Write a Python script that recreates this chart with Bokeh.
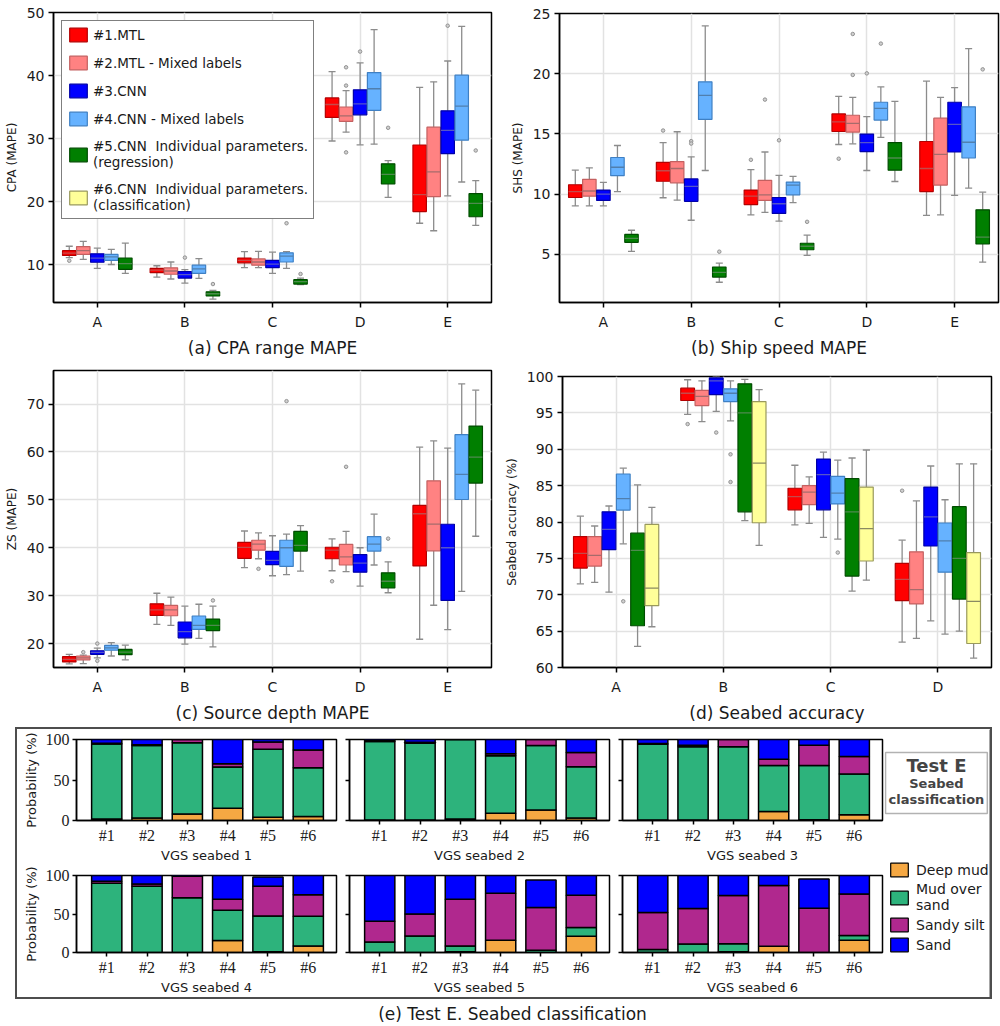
from bokeh.plotting import figure
from bokeh.models import (ColumnDataSource, Range1d, FixedTicker, Legend, LegendItem,
                          Label, BoxAnnotation, CustomLabelingPolicy)
from bokeh.layouts import row, column
from bokeh.embed import file_html
from bokeh.resources import INLINE

FONT = "DejaVu Sans"
SERIF = "Liberation Serif"

SERIES = ["#1.MTL", "#2.MTL - Mixed labels", "#3.CNN", "#4.CNN - Mixed labels",
          "#5.CNN  Individual parameters.\n(regression)",
          "#6.CNN  Individual parameters.\n(classification)"]
BOX_FILL = ["#ff0000", "#ff8282", "#0000ff", "#66b2ff", "#007f00", "#ffff99"]
BOX_EDGE = ["#b30000", "#c46060", "#0000a8", "#3f80c4", "#004c00", "#99995c"]
BOX_MED = ["#c44a4a", "#a66b6b", "#5555c8", "#507fae", "#4e8a4e", "#8a8a62"]
WHISKER = "#8c8c8c"

GROUPS5 = ["A", "B", "C", "D", "E"]
GROUPS4 = ["A", "B", "C", "D"]

# ---------------- (a) CPA range MAPE : [group][series]
CPA_LO = [[11.1, 10.8, 9.4, 10.0, 8.6], [8.0, 7.7, 7.06, 7.8, 4.5], [9.5, 9.5, 8.6, 9.38, 6.8],
          [29.6, 31.0, 29.0, 29.1, 20.67], [16.55, 15.36, 20.9, 23.1, 16.2]]
CPA_Q1 = [[11.44, 11.6, 10.36, 10.67, 9.23], [8.71, 8.45, 7.84, 8.6, 5.0], [10.26, 9.9, 9.5, 10.4, 6.9],
          [33.35, 32.73, 33.76, 34.48, 22.78], [18.4, 20.77, 27.6, 29.74, 17.58]]
CPA_MED = [[11.8, 12.2, 11.0, 11.2, 10.15], [9.1, 8.97, 8.4, 9.3, 5.36], [10.67, 10.4, 10.05, 11.34, 7.27],
           [35.4, 33.6, 35.5, 37.9, 24.3], [21.1, 24.7, 31.3, 35.15, 19.7]]
CPA_Q3 = [[12.2, 12.84, 11.7, 11.6, 11.03], [9.38, 9.48, 8.87, 9.9, 5.67], [11.03, 10.88, 10.67, 11.86, 7.6],
          [36.44, 35.0, 37.73, 40.46, 25.98], [28.97, 31.8, 34.4, 40.05, 21.24]]
CPA_HI = [[12.9, 13.66, 12.6, 12.4, 13.4], [9.8, 10.4, 9.2, 10.93, 5.9], [12.06, 12.1, 11.96, 12.06, 7.84],
          [40.6, 37.6, 42.0, 47.27, 26.5], [38.1, 39.0, 42.3, 47.8, 23.3]]
CPA_FL_GROUP = ["A", "B", "B", "C", "C", "D", "D", "D", "D", "D", "E", "E"]
CPA_FL_SERIES = [1, 3, 5, 4, 5, 2, 2, 2, 3, 5, 3, 5]
CPA_FL_VALUE = [10.6, 11.1, 6.9, 16.55, 8.5, 41.3, 38.4, 27.8, 43.8, 31.7, 47.9, 28.1]

# ---------------- (b) Ship speed MAPE
SHS_LO = [[9.02, 9.02, 9.02, 10.2, 5.24], [9.7, 9.5, 7.83, 11.96, 2.68], [8.27, 8.48, 7.75, 9.3, 4.92],
          [14.12, 14.18, 11.96, 14.72, 11.05], [8.24, 8.27, 9.89, 10.5, 4.35]]
SHS_Q1 = [[9.72, 9.83, 9.48, 11.53, 6.0], [11.07, 10.94, 9.4, 16.2, 3.11], [9.13, 9.48, 8.4, 9.94, 5.38],
          [15.2, 15.15, 13.53, 16.15, 11.99], [10.21, 10.75, 13.5, 13.0, 5.86]]
SHS_MED = [[10.2, 10.26, 10.0, 12.23, 6.32], [11.94, 12.13, 10.64, 18.2, 3.5], [9.83, 9.94, 9.2, 10.75, 5.67],
           [16.0, 15.88, 14.28, 17.12, 13.0], [12.13, 13.3, 15.8, 14.31, 6.43]]
SHS_Q3 = [[10.78, 11.23, 10.34, 13.04, 6.65], [12.64, 12.7, 11.26, 19.33, 3.95], [10.34, 11.15, 9.72, 11.0, 5.92],
          [16.66, 16.55, 14.99, 17.63, 14.28], [14.37, 16.31, 17.63, 17.25, 8.7]]
SHS_HI = [[12.0, 12.18, 10.97, 14.04, 7.0], [14.28, 15.18, 13.1, 23.97, 4.27], [12.04, 13.5, 11.56, 11.48, 6.6],
          [18.12, 18.04, 16.44, 18.9, 17.7], [19.39, 18.04, 18.85, 22.09, 10.16]]
SHS_FL_GROUP = ["B", "B", "B", "B", "C", "C", "C", "C", "D", "D", "D", "D", "D", "E"]
SHS_FL_SERIES = [1, 3, 3, 5, 1, 2, 3, 5, 1, 2, 2, 3, 4, 5]
SHS_FL_VALUE = [15.28, 14.4, 14.2, 5.22, 12.85, 17.85, 14.47, 7.7, 12.94, 23.3, 19.9, 20.03, 22.5, 20.36]

# ---------------- (c) Source depth MAPE
ZS_LO = [[15.75, 15.8, 17.0, 17.4, 16.6], [24.0, 23.8, 19.9, 21.1, 19.3], [35.85, 37.7, 34.15, 34.4, 35.1],
         [35.2, 35.0, 32.0, 36.4, 30.6], [20.9, 28.0, 22.9, 30.9, 42.4]]
ZS_Q1 = [[16.16, 16.6, 17.74, 18.6, 17.67], [25.9, 25.8, 21.2, 22.95, 22.7], [37.8, 39.5, 36.46, 36.1, 39.3],
         [37.7, 36.4, 34.9, 39.3, 31.6], [36.2, 39.35, 29.0, 50.07, 53.5]]
ZS_MED = [[16.7, 17.0, 18.15, 19.1, 18.2], [27.05, 27.05, 22.5, 23.8, 23.8], [40.07, 40.75, 37.35, 40.0, 40.5],
          [39.5, 38.1, 36.8, 40.75, 33.0], [47.1, 44.95, 40.0, 55.3, 58.9]]
ZS_Q3 = [[17.26, 17.4, 18.5, 19.6, 18.77], [28.3, 27.95, 24.5, 25.75, 25.1], [41.1, 41.56, 39.25, 41.56, 43.4],
         [40.1, 40.7, 38.57, 42.3, 34.76], [48.84, 53.96, 44.9, 63.6, 65.4]]
ZS_HI = [[17.74, 17.6, 19.04, 20.2, 19.66], [30.5, 29.7, 27.8, 28.2, 27.8], [43.5, 43.1, 42.5, 42.86, 44.6],
         [41.84, 43.4, 40.0, 47.0, 37.07], [61.0, 62.3, 60.8, 74.2, 72.9]]
ZS_FL_GROUP = ["A", "A", "A", "B", "C", "C", "D", "D", "D"]
ZS_FL_SERIES = [2, 3, 3, 5, 2, 4, 1, 2, 5]
ZS_FL_VALUE = [18.2, 20.0, 16.4, 29.0, 35.6, 70.6, 33.0, 56.9, 41.9]

# ---------------- (d) Seabed accuracy
SB_LO = [[71.5, 71.7, 70.35, 77.0, 62.9, 65.6], [94.8, 93.8, 95.2, 93.9, 80.2, 76.8],
         [79.6, 79.8, 77.9, 77.65, 70.5, 72.0], [63.5, 64.0, 66.4, 64.6, 65.0, 61.3]]
SB_Q1 = [[73.67, 73.94, 76.2, 81.64, 65.74, 68.5], [96.7, 96.0, 97.5, 96.55, 81.4, 79.9],
         [81.67, 82.4, 81.67, 82.48, 72.57, 74.64], [69.2, 68.74, 76.7, 73.1, 69.4, 63.3]]
SB_MED = [[75.7, 75.4, 79.0, 83.2, 76.1, 70.9], [97.7, 97.27, 99.4, 97.7, 95.0, 88.1],
          [83.5, 84.1, 86.5, 83.96, 81.4, 79.1], [72.1, 70.7, 80.7, 77.4, 75.0, 69.1]]
SB_Q3 = [[78.0, 78.0, 81.4, 86.6, 78.46, 79.67], [98.4, 98.1, 99.8, 98.3, 99.0, 96.55],
         [84.64, 85.0, 88.65, 86.26, 85.95, 84.8], [74.3, 75.9, 84.8, 79.86, 82.1, 75.8]]
SB_HI = [[80.8, 79.45, 82.2, 87.4, 85.1, 82.0], [99.55, 99.4, 100.0, 99.4, 99.6, 98.2],
         [87.8, 86.2, 89.6, 88.5, 88.8, 89.9], [77.5, 82.9, 87.7, 83.06, 88.0, 88.0]]
SB_FL_GROUP = ["A", "B", "B", "B", "B", "C", "D"]
SB_FL_SERIES = [4, 1, 3, 4, 4, 4, 1]
SB_FL_VALUE = [69.1, 93.46, 92.3, 89.3, 85.5, 75.8, 84.3]

# ---------------- (e) Test E seabed classification probabilities (%), models #1..#6
MODELS = ["#1", "#2", "#3", "#4", "#5", "#6"]
CLASSES = ["Deep mud", "Mud over\nsand", "Sandy silt", "Sand"]
CLASS_COLORS = ["#f5a843", "#2db37c", "#b0288e", "#0000ff"]
VGS1_DEEP = [2, 3, 8, 15, 4, 5]
VGS1_MOS = [92.5, 89.5, 88, 51, 84, 60]
VGS1_SILT = [1, 1, 4, 4, 9, 22]
VGS1_SAND = [4.5, 6.5, 0, 30, 3, 13]
VGS2_DEEP = [0.5, 0.5, 2, 9, 13, 3]
VGS2_MOS = [97, 95, 98, 71, 79.5, 63.5]
VGS2_SILT = [0.5, 1, 0, 2.5, 7.5, 17.5]
VGS2_SAND = [2, 3.5, 0, 17.5, 0, 16]
VGS3_DEEP = [0.5, 0.5, 0.5, 11, 1, 7]
VGS3_MOS = [93.5, 90.5, 90.5, 57, 67, 50.5]
VGS3_SILT = [1, 2, 9, 7.5, 25, 21.5]
VGS3_SAND = [5, 7, 0, 24.5, 7, 21]
VGS4_DEEP = [0, 0, 0, 15.5, 1, 8.5]
VGS4_MOS = [90, 86, 71, 39.5, 46.5, 38.5]
VGS4_SILT = [2.5, 3, 28, 14, 38.5, 28]
VGS4_SAND = [7.5, 11, 1, 31, 12, 25]
VGS5_DEEP = [0, 0, 1, 16, 0, 21]
VGS5_MOS = [13.5, 21.5, 7.5, 0, 3, 11.5]
VGS5_SILT = [27, 28.5, 60.5, 61, 55.5, 42]
VGS5_SAND = [59.5, 50, 31, 23, 35.5, 25.5]
VGS6_DEEP = [0, 0, 1, 8, 0, 16]
VGS6_MOS = [4, 11, 10.5, 0, 0, 6]
VGS6_SILT = [48, 46, 62.5, 79, 57.5, 54]
VGS6_SAND = [48, 43, 26, 13, 38, 24]


def style_axes(p, tick_font=FONT, tick_size="14px", label_size="12px"):
    for ax in list(p.xaxis) + list(p.yaxis):
        ax.major_label_text_font = tick_font
        ax.major_label_text_font_size = tick_size
        ax.major_label_text_color = "#1a1a1a"
        ax.axis_label_text_font = FONT
        ax.axis_label_text_font_style = "normal"
        ax.axis_label_text_font_size = label_size
        ax.axis_label_text_color = "#1a1a1a"
        ax.minor_tick_line_color = None
        ax.major_tick_in = 0
        ax.major_tick_out = 5
        ax.major_tick_line_color = "black"
        ax.major_tick_line_width = 1.5
        ax.axis_line_color = "black"
        ax.axis_line_width = 1.5


def box_panel(groups, lo, q1, med, q3, hi, fl_g, fl_s, fl_v, nser, yrange, yticks,
              ylabel, caption, width, height, borders, with_legend=False):
    bl, br, bt, bb = borders
    p = figure(width=width, height=height, x_range=Range1d(-0.5, len(groups) - 0.5),
               y_range=Range1d(*yrange), output_backend="svg", toolbar_location=None,
               min_border_left=bl, min_border_right=br, min_border_top=bt, min_border_bottom=bb)
    p.frame_align = False
    p.outline_line_color = "black"
    p.outline_line_width = 1.5
    gt = FixedTicker(ticks=list(range(len(groups))))
    p.xaxis.ticker = gt
    p.xgrid.ticker = gt
    p.xaxis.major_label_overrides = {i: g for i, g in enumerate(groups)}
    yt = FixedTicker(ticks=yticks)
    p.yaxis.ticker = yt
    p.ygrid.ticker = yt
    p.grid.grid_line_color = "#e2e2e2"
    p.grid.grid_line_width = 1.5
    style_axes(p)
    p.yaxis.axis_label = ylabel
    p.yaxis.major_label_standoff = 4
    p.yaxis.axis_label_standoff = 5
    p.xaxis.axis_label = caption
    p.xaxis.axis_label_text_font_size = "17px"
    p.xaxis.axis_label_standoff = 5
    p.xaxis.major_label_standoff = 6

    w = 0.8 / nser
    rends = []
    n = len(groups)
    for j in range(nser):
        xs = [i + (j - (nser - 1) / 2) * w for i in range(n)]
        src = ColumnDataSource(dict(
            x=xs,
            lo=[lo[i][j] for i in range(n)], q1=[q1[i][j] for i in range(n)],
            med=[med[i][j] for i in range(n)], q3=[q3[i][j] for i in range(n)],
            hi=[hi[i][j] for i in range(n)],
            cl=[x - w * 0.25 for x in xs], cr=[x + w * 0.25 for x in xs],
            bl=[x - w * 0.48 for x in xs], br=[x + w * 0.48 for x in xs]))
        kw = dict(source=src, line_color=WHISKER, line_width=1.3)
        p.segment("x", "lo", "x", "q1", **kw)
        p.segment("x", "q3", "x", "hi", **kw)
        p.segment("cl", "lo", "cr", "lo", **kw)
        p.segment("cl", "hi", "cr", "hi", **kw)
        r = p.vbar(x="x", width=w * 0.96, bottom="q1", top="q3", source=src,
                   fill_color=BOX_FILL[j], line_color=BOX_EDGE[j], line_width=1.2)
        p.segment("bl", "med", "br", "med", source=src, line_color=BOX_MED[j], line_width=1.3)
        rends.append(r)
    fx = [groups.index(g) + (s - 1 - (nser - 1) / 2) * w for g, s in zip(fl_g, fl_s)]
    p.scatter(x=fx, y=fl_v, marker="circle", size=3.5, line_color="#939393",
              fill_color="#d0d0d0", line_width=1)

    if with_legend:
        # series #6 has no boxes in this panel: a hidden stand-in gives it a legend swatch
        ry = p.vbar(x=[-9.0], top=[1.0], bottom=[0.0], width=0.1, fill_color=BOX_FILL[5],
                    line_color=BOX_EDGE[5], line_width=1.2)
        allr = rends + [ry]
        items = [LegendItem(label=SERIES[k], renderers=[allr[k]]) for k in range(6)]
        leg = Legend(items=items, location="top_left", margin=8, padding=5, spacing=11,
                     glyph_width=22, glyph_height=17, label_standoff=4,
                     label_text_font=FONT, label_text_font_size="13.5px",
                     label_text_color="#1a1a1a", label_text_line_height=1.05,
                     border_line_color="black", border_line_width=1.5,
                     background_fill_color="white", background_fill_alpha=1.0)
        p.add_layout(leg)
    return p


fa = box_panel(GROUPS5, CPA_LO, CPA_Q1, CPA_MED, CPA_Q3, CPA_HI,
               CPA_FL_GROUP, CPA_FL_SERIES, CPA_FL_VALUE, 5, (3.97, 50), [10, 20, 30, 40, 50],
               "CPA (MAPE)", "(a) CPA range MAPE", 500, 360, (53, 9, 12, 50), with_legend=True)
fb = box_panel(GROUPS5, SHS_LO, SHS_Q1, SHS_MED, SHS_Q3, SHS_HI,
               SHS_FL_GROUP, SHS_FL_SERIES, SHS_FL_VALUE, 5, (1.0, 25), [5, 10, 15, 20, 25],
               "SHS (MAPE)", "(b) Ship speed MAPE", 500, 360, (59, 2, 13, 50))
fc = box_panel(GROUPS5, ZS_LO, ZS_Q1, ZS_MED, ZS_Q3, ZS_HI,
               ZS_FL_GROUP, ZS_FL_SERIES, ZS_FL_VALUE, 5, (15.0, 77.0), [20, 30, 40, 50, 60, 70],
               "ZS (MAPE)", "(c) Source depth MAPE", 500, 365, (53, 9, 10, 52))
fd = box_panel(GROUPS4, SB_LO, SB_Q1, SB_MED, SB_Q3, SB_HI,
               SB_FL_GROUP, SB_FL_SERIES, SB_FL_VALUE, 6, (60, 100), [60, 65, 70, 75, 80, 85, 90, 95, 100],
               "Seabed accuracy (%)", "(d) Seabed accuracy", 500, 365, (62, 9, 16, 52))


def seabed_fig(deep, mos, silt, sand, xlabel, width, height, borders, ylabels):
    bl, br, bt, bb = borders
    p = figure(width=width, height=height, x_range=Range1d(-0.75, 5.7), y_range=Range1d(0, 100),
               output_backend="svg", toolbar_location=None,
               min_border_left=bl, min_border_right=br, min_border_top=bt, min_border_bottom=bb)
    p.frame_align = False
    src = ColumnDataSource(dict(x=list(range(6)), deep=deep, mos=mos, silt=silt, sand=sand))
    p.vbar_stack(["deep", "mos", "silt", "sand"], x="x", width=0.75, source=src,
                 fill_color=CLASS_COLORS, line_color="black", line_width=1.5)
    p.grid.visible = False
    p.outline_line_color = "black"
    p.outline_line_width = 1.5
    style_axes(p, tick_font=SERIF, tick_size="16px", label_size="13px")
    p.xaxis.ticker = FixedTicker(ticks=list(range(6)))
    p.xaxis.major_label_overrides = {i: m for i, m in enumerate(MODELS)}
    p.yaxis.ticker = FixedTicker(ticks=[0, 50, 100])
    p.xaxis.major_tick_out = 4
    p.yaxis.major_tick_out = 4
    p.xaxis.major_label_standoff = 2
    p.xaxis.axis_label = xlabel
    p.xaxis.axis_label_standoff = 1
    if ylabels:
        p.yaxis.axis_label = "Probability (%)"
        p.yaxis.major_label_standoff = 3
        p.yaxis.axis_label_standoff = 4
    else:
        # shared y scale: tick marks only, no tick labels
        p.yaxis.major_label_overrides = {0: "", 50: "", 100: ""}
        p.yaxis.major_label_policy = CustomLabelingPolicy(code="return new Set()")
        p.yaxis.major_label_standoff = 0
    return p


e1 = seabed_fig(VGS1_DEEP, VGS1_MOS, VGS1_SILT, VGS1_SAND, "VGS seabed 1", 325, 137, (59, 6, 10, 46), True)
e2 = seabed_fig(VGS2_DEEP, VGS2_MOS, VGS2_SILT, VGS2_SAND, "VGS seabed 2", 273, 137, (7, 6, 10, 46), False)
e3 = seabed_fig(VGS3_DEEP, VGS3_MOS, VGS3_SILT, VGS3_SAND, "VGS seabed 3", 269, 137, (7, 2, 10, 46), False)
e4 = seabed_fig(VGS4_DEEP, VGS4_MOS, VGS4_SILT, VGS4_SAND, "VGS seabed 4", 325, 131, (59, 6, 9, 42), True)
e5 = seabed_fig(VGS5_DEEP, VGS5_MOS, VGS5_SILT, VGS5_SAND, "VGS seabed 5", 273, 131, (7, 6, 9, 42), False)
e6 = seabed_fig(VGS6_DEEP, VGS6_MOS, VGS6_SILT, VGS6_SAND, "VGS seabed 6", 269, 131, (7, 2, 9, 42), False)

# legend column of panel (e)
lg = figure(width=106, height=268, x_range=Range1d(0, 1), y_range=Range1d(0, 1),
            x_axis_type=None, y_axis_type=None, output_backend="svg", toolbar_location=None,
            min_border=0)
lg.frame_align = False
lg.outline_line_color = None
lg.grid.visible = False
lg.add_layout(BoxAnnotation(left=0.01, right=0.97, bottom=0.687, top=0.914,
                            fill_color="white", fill_alpha=1.0, line_color="black", line_width=1.5))
lg.add_layout(Label(x=0.49, y=0.866, text="Test E", text_font=FONT, text_font_style="bold",
                    text_font_size="18px", text_align="center", text_baseline="middle"))
lg.add_layout(Label(x=0.49, y=0.797, text="Seabed", text_font=FONT, text_font_style="bold",
                    text_font_size="13px", text_align="center", text_baseline="middle"))
lg.add_layout(Label(x=0.49, y=0.740, text="classification", text_font=FONT, text_font_style="bold",
                    text_font_size="13px", text_align="center", text_baseline="middle"))
# hidden stand-ins (outside the visible range) that carry the legend swatches
crs = [lg.vbar(x=[5.0], top=[1.0], width=0.1, fill_color=c, line_color="black", line_width=1.2)
       for c in CLASS_COLORS]
cleg = Legend(items=[LegendItem(label=CLASSES[k], renderers=[crs[k]]) for k in range(4)],
              location=(4, 44), padding=0, margin=0, spacing=3, glyph_width=22, glyph_height=17,
              label_standoff=6, label_text_font=FONT, label_text_font_size="14px",
              label_text_line_height=0.75, label_text_color="#1a1a1a",
              border_line_color=None, background_fill_alpha=0)
lg.add_layout(cleg)

cap = figure(width=1000, height=27, x_range=Range1d(0, 1000), y_range=Range1d(0, 27),
             x_axis_type=None, y_axis_type=None, output_backend="svg", toolbar_location=None,
             min_border=0)
cap.outline_line_color = None
cap.grid.visible = False
cap.add_layout(Label(x=512, y=13, text="(e) Test E. Seabed classification", text_font=FONT,
                     text_font_size="17px", text_align="center", text_baseline="middle",
                     text_color="#1a1a1a"))

eblock = row(column(row(e1, e2, e3), row(e4, e5, e6)), lg,
             styles={"border": "2px solid #4d4d4d"}, margin=(2, 0, 0, 15))
layout = column(row(fa, fb), row(fc, fd), eblock, cap)

open("out.html", "w").write(file_html(layout, INLINE))
